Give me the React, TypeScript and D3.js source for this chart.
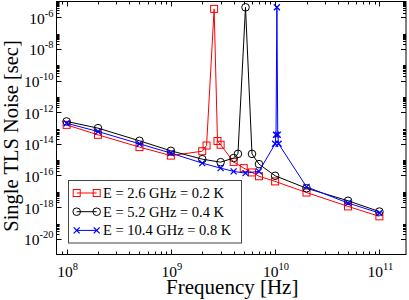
import React from "react";
import * as d3 from "d3";

const W = 409;
const H = 300;

const FREQ_RED = [1e8, 2e8, 5e8, 1e9, 2e9, 2.2e9, 2.6e9, 2.8e9, 3e9, 4e9, 5e9, 6e9, 7e9, 1e10, 2e10, 5e10, 1e11];
const NOISE_RED = [1.58e-13, 3.7e-14, 6.2e-15, 1.8e-15, 3.4e-15, 7.8e-15, 3.4e-6, 1.5e-14, 8.7e-15, 7.2e-16, 2.9e-16, 1.55e-16, 8.9e-17, 4.2e-17, 8.3e-18, 1.1e-18, 2.6e-19];

const FREQ_BLACK = [1e8, 2e8, 5e8, 1e9, 2e9, 3e9, 4e9, 4.4e9, 5.2e9, 6e9, 7e9, 1e10, 2e10, 5e10, 1e11];
const NOISE_BLACK = [2.6e-13, 9.8e-14, 1.55e-14, 3.6e-15, 1.07e-15, 6.9e-16, 1.26e-15, 2.3e-15, 4.3e-6, 2.3e-15, 5.2e-16, 9.5e-17, 1.55e-17, 2.5e-18, 5.2e-19];

const FREQ_BLUE = [1e8, 2e8, 5e8, 1e9, 2e9, 3e9, 4e9, 5.2e9, 7e9, 1e10, 1.02e10, 1.04e10, 1.06e10, 1.08e10, 2e10, 5e10, 1e11];
const NOISE_BLUE = [2.0e-13, 6.0e-14, 1.0e-14, 2.6e-15, 6.0e-16, 2.9e-16, 1.8e-16, 1.4e-16, 1.8e-16, 1.0e-14, 3.7e-14, 4.3e-6, 3.7e-14, 1.0e-14, 1.9e-17, 1.8e-18, 4.2e-19];

const LEGEND_LABELS = ["E = 2.6 GHz = 0.2 K", "E = 5.2 GHz = 0.4 K", "E = 10.4 GHz = 0.8 K"];
const X_MAJOR_EXP = [8, 9, 10, 11];
const Y_MAJOR_EXP = [-20, -18, -16, -14, -12, -10, -8, -6];

const FONT = "'Liberation Serif', 'Times New Roman', serif";

type Series = { freq: number[]; noise: number[]; color: string; marker: "square" | "circle" | "x" };

const SERIES: Series[] = [
  { freq: FREQ_RED, noise: NOISE_RED, color: "#ff0000", marker: "square" },
  { freq: FREQ_BLACK, noise: NOISE_BLACK, color: "#000000", marker: "circle" },
  { freq: FREQ_BLUE, noise: NOISE_BLUE, color: "#0000ff", marker: "x" },
];

function Marker({ type, x, y, color }: { type: string; x: number; y: number; color: string }) {
  if (type === "square") {
    const s = 7;
    return <rect x={x - s / 2} y={y - s / 2} width={s} height={s} fill="none" stroke={color} strokeWidth={1} />;
  }
  if (type === "circle") {
    return <circle cx={x} cy={y} r={3.8} fill="none" stroke={color} strokeWidth={1} />;
  }
  const h = 3;
  return (
    <path d={`M${x - h},${y - h}L${x + h},${y + h}M${x - h},${y + h}L${x + h},${y - h}`} stroke={color} strokeWidth={1.3} fill="none" />
  );
}

export default function App() {
  const L = 56.5, R = 406, T = 1.5, B = 254.5;
  const x = d3.scaleLog().domain([8e7, 1.8e11]).range([L, R]);
  const y = d3.scaleLog().domain([1e-21, 1e-5]).range([B, T]);

  const line = d3
    .line<[number, number]>()
    .x((d) => x(d[0]))
    .y((d) => y(d[1]));

  const xMinor: number[] = [];
  for (let k = 7; k <= 11; k++) for (let m = 2; m <= 9; m++) {
    const v = m * Math.pow(10, k);
    if (v > 8e7 && v < 1.8e11) xMinor.push(v);
  }
  const yMinor: number[] = [];
  for (let k = -22; k <= -6; k += 2) for (let m = 2; m <= 9; m++) {
    const v = m * Math.pow(10, k);
    if (v > 1e-21 && v < 1e-5) yMinor.push(v);
  }

  const major = 5, minor = 3;

  return (
    <svg width={W} height={H} style={{ position: "fixed", left: 0, top: 0, background: "#fff" }} fontFamily={FONT}>
      <rect x={0} y={0} width={W} height={H} fill="#fff" />
      <defs>
        <clipPath id="plot">
          <rect x={L} y={T} width={R - L} height={B - T} />
        </clipPath>
      </defs>

      {/* series */}
      <g clipPath="url(#plot)">
        {SERIES.map((s, i) => {
          const pts = s.freq.map((f, j) => [f, s.noise[j]] as [number, number]);
          return (
            <g key={i}>
              <path d={line(pts) || ""} fill="none" stroke={s.color} strokeWidth={1} />
              {pts.map((p, j) => (
                <Marker key={j} type={s.marker} x={x(p[0])} y={y(p[1])} color={s.color} />
              ))}
            </g>
          );
        })}
      </g>

      {/* ticks */}
      <g stroke="#000" strokeWidth={1}>
        {X_MAJOR_EXP.map((e) => {
          const px = Math.round(x(Math.pow(10, e))) + 0.5;
          return (
            <g key={"xM" + e}>
              <line x1={px} x2={px} y1={B} y2={B - major} />
              <line x1={px} x2={px} y1={T} y2={T + major} />
            </g>
          );
        })}
        {xMinor.map((v, i) => {
          const px = Math.round(x(v)) + 0.5;
          return (
            <g key={"xm" + i}>
              <line x1={px} x2={px} y1={B} y2={B - minor} />
              <line x1={px} x2={px} y1={T} y2={T + minor} />
            </g>
          );
        })}
        {Y_MAJOR_EXP.map((e) => {
          const py = Math.round(y(Math.pow(10, e))) + 0.5;
          return (
            <g key={"yM" + e}>
              <line x1={L} x2={L + major} y1={py} y2={py} />
              <line x1={R} x2={R - major} y1={py} y2={py} />
            </g>
          );
        })}
        {yMinor.map((v, i) => {
          const py = Math.round(y(v)) + 0.5;
          return (
            <g key={"ym" + i}>
              <line x1={L} x2={L + minor} y1={py} y2={py} />
              <line x1={R} x2={R - minor} y1={py} y2={py} />
            </g>
          );
        })}
      </g>

      {/* frame */}
      <rect x={L} y={T} width={R - L} height={B - T} fill="none" stroke="#000" strokeWidth={1} />

      {/* x tick labels */}
      {X_MAJOR_EXP.map((e) => (
        <text key={"xl" + e} x={x(Math.pow(10, e)) + 1} y={277} fontSize={15.5} textAnchor="middle" fill="#000">
          10<tspan dy={-7} fontSize={10.5}>{e}</tspan>
        </text>
      ))}

      {/* y tick labels */}
      {Y_MAJOR_EXP.map((e) => (
        <text key={"yl" + e} x={53.5} y={y(Math.pow(10, e)) + 6.5} fontSize={15.5} textAnchor="end" fill="#000">
          10<tspan dy={-7} fontSize={10.5}>{e}</tspan>
        </text>
      ))}

      {/* axis titles */}
      <text x={(L + R) / 2 + 1} y={294} fontSize={21} textAnchor="middle" fill="#000">
        Frequency [Hz]
      </text>
      <text transform={`translate(18,${(T + B) / 2 + 8}) rotate(-90)`} fontSize={20.5} textAnchor="middle" fill="#000">
        Single TLS Noise [sec]
      </text>

      {/* legend */}
      <rect x={68.5} y={180.5} width={173} height={62.5} fill="#fff" stroke="#444" strokeWidth={1} />
      {SERIES.map((s, i) => {
        const cy = 193 + i * 18.7;
        return (
          <g key={"lg" + i}>
            <line x1={76.7} x2={96.7} y1={cy} y2={cy} stroke={s.color} strokeWidth={1} />
            <Marker type={s.marker} x={76.7} y={cy} color={s.color} />
            <Marker type={s.marker} x={96.7} y={cy} color={s.color} />
            <text x={103} y={cy + 5} fontSize={14.5} fill="#000">
              {LEGEND_LABELS[i]}
            </text>
          </g>
        );
      })}
    </svg>
  );
}
